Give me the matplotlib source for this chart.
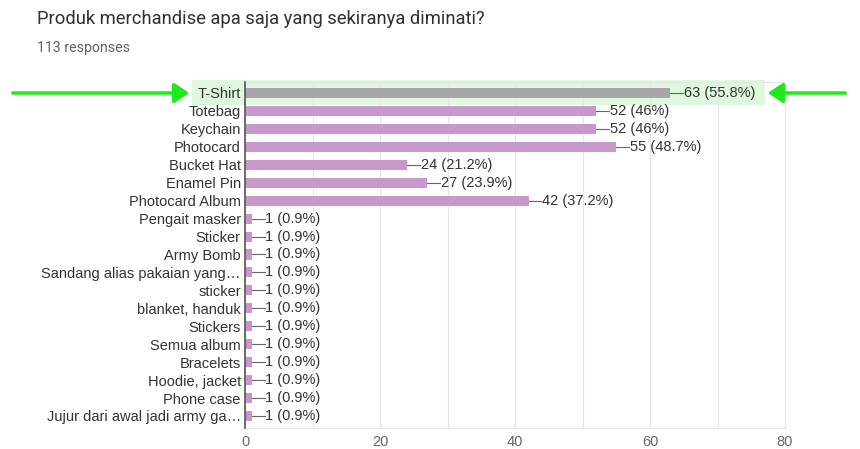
import matplotlib
matplotlib.use("Agg")
import matplotlib.pyplot as plt
from matplotlib.patches import Rectangle, FancyArrowPatch

categories = ["T-Shirt", "Totebag", "Keychain", "Photocard", "Bucket Hat", "Enamel Pin",
              "Photocard Album", "Pengait masker", "Sticker", "Army Bomb",
              "Sandang alias pakaian yang\u2026", "sticker", "blanket, handuk", "Stickers",
              "Semua album", "Bracelets", "Hoodie, jacket", "Phone case",
              "Jujur dari awal jadi army ga\u2026"]
counts = [63, 52, 52, 55, 24, 27, 42, 1, 1, 1, 1, 1, 1, 1, 1, 1, 1, 1, 1]
percents = ["55.8%", "46%", "46%", "48.7%", "21.2%", "23.9%", "37.2%"] + ["0.9%"] * 12
xticks = [0, 20, 40, 60, 80]

W, H = 860, 449
plt.rcParams['font.family'] = ['Liberation Sans', 'DejaVu Sans']
fig = plt.figure(figsize=(W / 100, H / 100), dpi=100)

n = len(categories)
ax_left, ax_right = 245 / W, 785 / W
top_px, bot_px = 82, 428
ax = fig.add_axes([ax_left, 1 - bot_px / H, ax_right - ax_left, (bot_px - top_px) / H])
ax.set_zorder(1)
ax.patch.set_visible(False)

purple = "#c898cc"
grey_bar = "#a9a6a9"
colors = [grey_bar] + [purple] * (n - 1)
ys = list(range(n))
ax.barh(ys, counts, height=0.56, color=colors, zorder=3)

fs = 10.5
for y, c, p in zip(ys, counts, percents):
    x0 = max(c, 0.4)
    ax.plot([x0, x0 + 1.9], [y, y], color="#666666", lw=0.8, zorder=3)
    ax.text(x0 + 2.0, y, f"{c} ({p})", va="center", ha="left", fontsize=fs,
            color="#333333", zorder=4)

ax.set_xlim(0, 80)
ax.set_ylim(n - 1 + 0.67, -0.613)
ax.set_yticks(ys)
ax.set_yticklabels(categories, fontsize=fs, color="#333333")
ax.tick_params(axis="y", length=0, pad=3)
ax.set_xticks(xticks)
ax.set_xticks(range(0, 81, 10), minor=True)
ax.tick_params(axis="x", length=0, pad=5, labelsize=fs, labelcolor="#666666")
ax.tick_params(axis="x", which="minor", length=0)
ax.grid(axis="x", which="both", color="#e6e6e6", lw=0.8, zorder=0)
for s in ["top", "right", "bottom"]:
    ax.spines[s].set_color("#e6e6e6")
ax.spines["left"].set_color("#555555")
ax.spines["left"].set_linewidth(1.2)
ax.spines["left"].set_zorder(5)

# highlight box around first row (figure pixel coords)
hl = Rectangle((192 / W, 1 - 105 / H), (765 - 192) / W, 25 / H, transform=fig.transFigure,
               facecolor="#ddf8dd", edgecolor="none", zorder=-1)
fig.patches.append(hl)

green = "#1ee81e"
a1 = FancyArrowPatch((10 / W, 1 - 93 / H), (192 / W, 1 - 93 / H), transform=fig.transFigure,
                     arrowstyle="-|>,head_length=6,head_width=4", color=green, lw=2.5,
                     mutation_scale=1.5, zorder=2)
a2 = FancyArrowPatch((848 / W, 1 - 93 / H), (765 / W, 1 - 93 / H), transform=fig.transFigure,
                     arrowstyle="-|>,head_length=6,head_width=4", color=green, lw=2.5,
                     mutation_scale=1.5, zorder=2)
fig.patches.append(a1)
fig.patches.append(a2)

fig.text(37 / W, 1 - 19 / H, "Produk merchandise apa saja yang sekiranya diminati?",
         fontsize=13.2, color="#303030", va="center", ha="left", family=["Roboto", "DejaVu Sans"])
fig.text(37 / W, 1 - 48 / H, "113 responses", fontsize=10.2, color="#5f6368",
         va="center", ha="left", family=["Roboto", "DejaVu Sans"])

fig.savefig("out.png", dpi=100, facecolor="white")
